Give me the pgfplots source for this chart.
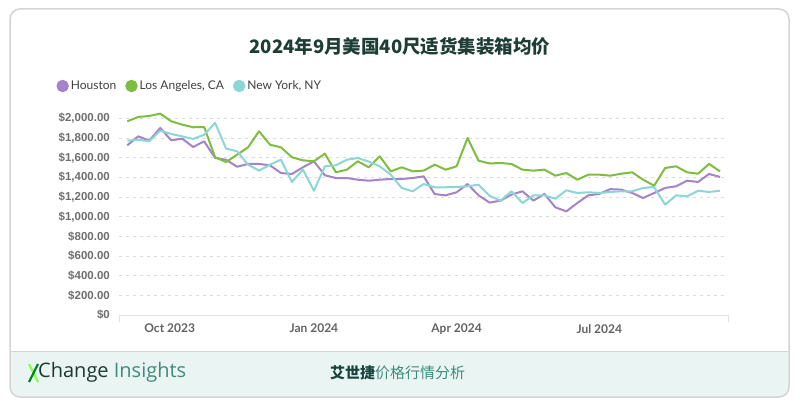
\documentclass[border=0pt]{standalone}
\usepackage{fontspec}
\usepackage{pgfplots}
\pgfplotsset{compat=1.18}
\usepackage{pgfplotstable}
\setmainfont{Lato}
\newfontfamily\cjk{Noto Sans CJK SC}
\newfontfamily\arial{Liberation Sans}
\newfontfamily\logofont{Open Sans}

\definecolor{hou}{HTML}{A583C9}
\definecolor{la}{HTML}{7DBE41}
\definecolor{ny}{HTML}{8DD6D6}
\definecolor{titlecol}{HTML}{1E3D34}
\definecolor{framecol}{HTML}{D4D4D4}
\definecolor{footbg}{HTML}{EAF5F3}
\definecolor{gridcol}{HTML}{DADADA}
\definecolor{tickcol}{HTML}{6E6E6E}
\definecolor{logodark}{HTML}{1C3A31}
\definecolor{logoteal}{HTML}{3E8C7C}

% weekly prices, x = days since 1 Oct 2023
\pgfplotstableread{
d   hou  la   ny
-27 1726 1970 1773
-20 1817 2014 1783
-13 1773 2024 1766
-6  1902 2048 1875
1   1777 1970 1841
8   1793 1936 1817
15  1709 1909 1790
22  1766 1912 1834
29  1597 1604 1953
36  1579 1556 1692
43  1508 1630 1665
50  1536 1705 1529
57  1536 1868 1468
64  1522 1732 1529
71  1444 1705 1579
78  1434 1604 1353
85  1502 1573 1478
92  1563 1563 1264
99  1421 1641 1512
106 1393 1451 1522
113 1393 1478 1579
120 1376 1563 1597
127 1366 1502 1560
134 1376 1614 1512
141 1383 1461 1427
148 1383 1502 1292
155 1393 1461 1258
162 1410 1468 1332
169 1230 1529 1299
176 1217 1478 1299
183 1248 1512 1302
190 1332 1800 1309
197 1217 1569 1325
204 1143 1541 1212
211 1163 1546 1163
218 1224 1536 1258
225 1258 1478 1139
232 1163 1468 1217
239 1231 1478 1217
246 1095 1417 1183
253 1054 1444 1268
260 1139 1376 1241
267 1217 1427 1248
274 1231 1427 1241
281 1280 1417 1251
288 1275 1437 1258
295 1241 1451 1258
302 1190 1376 1292
309 1241 1315 1302
316 1292 1495 1122
323 1309 1512 1217
330 1366 1451 1207
337 1353 1437 1264
344 1434 1536 1251
351 1404 1461 1264
}\prices

\begin{document}
\begin{tikzpicture}[x=1pt,y=1pt]
\path (0,0) rectangle (800,410);
\begin{scope}
  \clip[rounded corners=10pt] (10,13) rectangle (789,401);
  \fill[white] (10,13) rectangle (789,401);
  \fill[footbg] (10,13) rectangle (789,59);
\end{scope}
\draw[framecol] (10,59) -- (789,59);
\draw[framecol, line width=1.5pt, rounded corners=10pt] (10,13) rectangle (789,401);

\node[font=\cjk\bfseries\fontsize{18.5}{20}\selectfont, text=titlecol] at (400,364) {2024年9月美国40尺适货集装箱均价};

\begin{axis}[
  at={(119pt,95pt)}, anchor=south west,
  scale only axis, width=609pt, height=206.5pt,
  xmin=-32.3, xmax=356.1, ymin=0, ymax=2100,
  axis line style={draw=none},
  major tick length=0pt,
  ytick={0,200,...,2000},
  yticklabels={\$0,\$200.00,\$400.00,\$600.00,\$800.00,\$1{,}000.00,\$1{,}200.00,\$1{,}400.00,\$1{,}600.00,\$1{,}800.00,\$2{,}000.00},
  xtick={0,92,183,274},
  xticklabels={Oct 2023,Jan 2024,Apr 2024,Jul 2024},
  ymajorgrids,
  grid style={gridcol, line width=0.8pt, dash pattern=on 3pt off 4pt},
  yticklabel style={font=\arial\bfseries\fontsize{11.5}{12}\selectfont, text=tickcol, inner sep=0pt, xshift=-9pt},
  xticklabel style={font=\bfseries\fontsize{12}{13}\selectfont, text=tickcol!90!black, inner sep=0pt, yshift=-9pt},
  legend style={at={(axis description cs:-0.108,1.109)}, anchor=west, draw=none, fill=none,
    legend columns=-1, font=\fontsize{12}{13}\selectfont, text=black!75,
    /tikz/every even column/.append style={column sep=7pt}},
  legend image code/.code={\fill[#1] (2pt,0pt) circle (5.2pt);},
  every axis plot/.append style={line width=2pt, line join=round},
  clip=false,
]
\draw[gridcol!80!white, line width=1pt] (rel axis cs:0,0) -- (rel axis cs:1,0);
\draw[gridcol!80!white, line width=1pt] (rel axis cs:0,0) -- ++(0pt,-7pt);
\draw[gridcol!80!white, line width=1pt] (rel axis cs:1,0) -- ++(0pt,-7pt);
\addplot[hou, no marks] table[x=d, y=hou] {\prices};
\addlegendentry{Houston}
\addplot[la, no marks] table[x=d, y=la] {\prices};
\addlegendentry{Los Angeles, CA}
\addplot[ny, no marks] table[x=d, y=ny] {\prices};
\addlegendentry{New York, NY}
\end{axis}

% footer
\draw[green!55!lime!70!white, line width=2.2pt] (29,46) -- (38,28);
\draw[green!50!black!70!teal, line width=2.2pt] (29,28) -- (38,46);
\node[anchor=west, inner sep=0pt, font=\logofont\fontsize{20}{22}\selectfont] at (38,37.5) {\textcolor{logodark}{Change} \textcolor{logoteal}{Insights}};
\node[anchor=west, inner sep=0pt, font=\cjk\fontsize{15}{17}\selectfont] at (330,37.5) {\textcolor{logodark!85!teal}{\bfseries 艾世捷}\textcolor{logoteal}{价格行情分析}};
\end{tikzpicture}
\end{document}
